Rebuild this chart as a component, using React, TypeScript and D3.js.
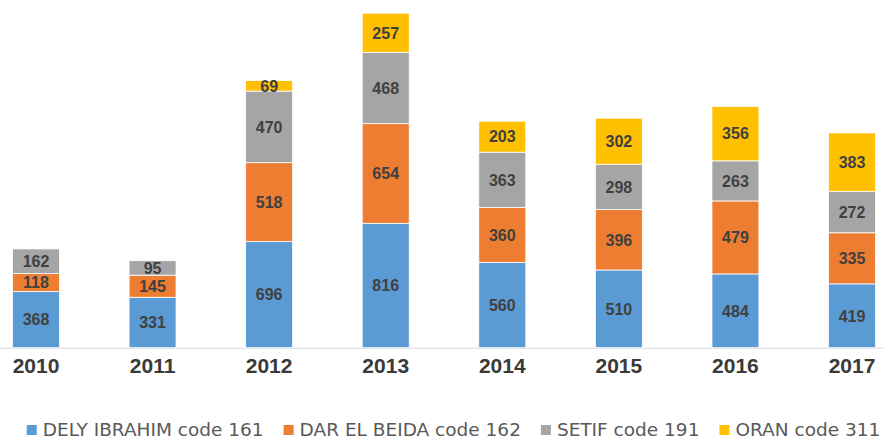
import React from "react";
import * as d3 from "d3";

const years = ["2010", "2011", "2012", "2013", "2014", "2015", "2016", "2017"];
const delyIbrahim = [368, 331, 696, 816, 560, 510, 484, 419];
const darElBeida = [118, 145, 518, 654, 360, 396, 479, 335];
const setif = [162, 95, 470, 468, 363, 298, 263, 272];
const oran = [0, 0, 69, 257, 203, 302, 356, 383];

const seriesNames = ["DELY IBRAHIM code 161", "DAR EL BEIDA code 162", "SETIF code 191", "ORAN code 311"];
const seriesKeys = ["dely", "dar", "setif", "oran"];
const colors = ["#5B9BD5", "#ED7D31", "#A5A5A5", "#FFC000"];

const W = 883;
const H = 439;
const LEGEND_FONT = "18.5px 'DejaVu Sans'";

function measure(text: string, font: string): number {
  const c = document.createElement("canvas");
  const ctx = c.getContext("2d")!;
  ctx.font = font;
  return ctx.measureText(text).width;
}

export default function App() {
  const rows = years.map((y, i) => ({
    year: y,
    dely: delyIbrahim[i],
    dar: darElBeida[i],
    setif: setif[i],
    oran: oran[i],
  }));
  const stacked = d3.stack<any>().keys(seriesKeys)(rows);

  const x = d3
    .scaleBand<string>()
    .domain(years)
    .range([-22.3, 910.3])
    .paddingInner(0.597)
    .paddingOuter(0.2985);
  const y = d3.scaleLinear().domain([0, 2200]).range([347.7, 12.4]);

  // legend layout
  const sq = 10;
  const sqGap = 16;
  const itemGap = 20;
  const widths = seriesNames.map((n) => measure(n, LEGEND_FONT));
  const total = widths.reduce((a, w) => a + sqGap + w, 0) + itemGap * (seriesNames.length - 1);
  let cursor = 453.5 - total / 2;
  const legendItems = seriesNames.map((n, i) => {
    const item = { name: n, color: colors[i], x: cursor };
    cursor += sqGap + widths[i] + itemGap;
    return item;
  });

  return (
    <svg
      width={W}
      height={H}
      style={{ position: "absolute", left: 0, top: 0, display: "block", background: "#fff" }}
    >
      <line x1={0} x2={W} y1={y(0) + 0.5} y2={y(0) + 0.5} stroke="#d9d9d9" strokeWidth={1} />
      {stacked.map((s, si) => (
        <g key={s.key}>
          {s.map((d, i) => {
            const v = d[1] - d[0];
            if (v <= 0) return null;
            return (
              <rect
                key={i}
                x={x(years[i])}
                width={x.bandwidth()}
                y={y(d[1])}
                height={y(d[0]) - y(d[1])}
                fill={colors[si]}
                stroke="#ffffff"
                strokeWidth={0.8}
              />
            );
          })}
        </g>
      ))}
      {stacked.map((s) => (
        <g key={"l" + s.key}>
          {s.map((d, i) => {
            const v = d[1] - d[0];
            if (v <= 0) return null;
            return (
              <text
                key={i}
                x={(x(years[i]) as number) + x.bandwidth() / 2}
                y={(y(d[0]) + y(d[1])) / 2}
                dy="0.36em"
                textAnchor="middle"
                fontFamily="'Liberation Sans', Arial, sans-serif"
                fontWeight="bold"
                fontSize={16}
                fill="#404040"
              >
                {v}
              </text>
            );
          })}
        </g>
      ))}
      {years.map((yr) => (
        <text
          key={yr}
          x={(x(yr) as number) + x.bandwidth() / 2}
          y={373}
          textAnchor="middle"
          fontFamily="'Liberation Sans', Arial, sans-serif"
          fontWeight="bold"
          fontSize={21}
          fill="#3a3a3a"
        >
          {yr}
        </text>
      ))}
      {legendItems.map((it) => (
        <g key={it.name}>
          <rect x={it.x} y={425} width={sq} height={sq} fill={it.color} />
          <text
            x={it.x + sqGap}
            y={436}
            fontFamily="'DejaVu Sans', sans-serif"
            fontSize={18.5}
            fill="#595959"
          >
            {it.name}
          </text>
        </g>
      ))}
    </svg>
  );
}
